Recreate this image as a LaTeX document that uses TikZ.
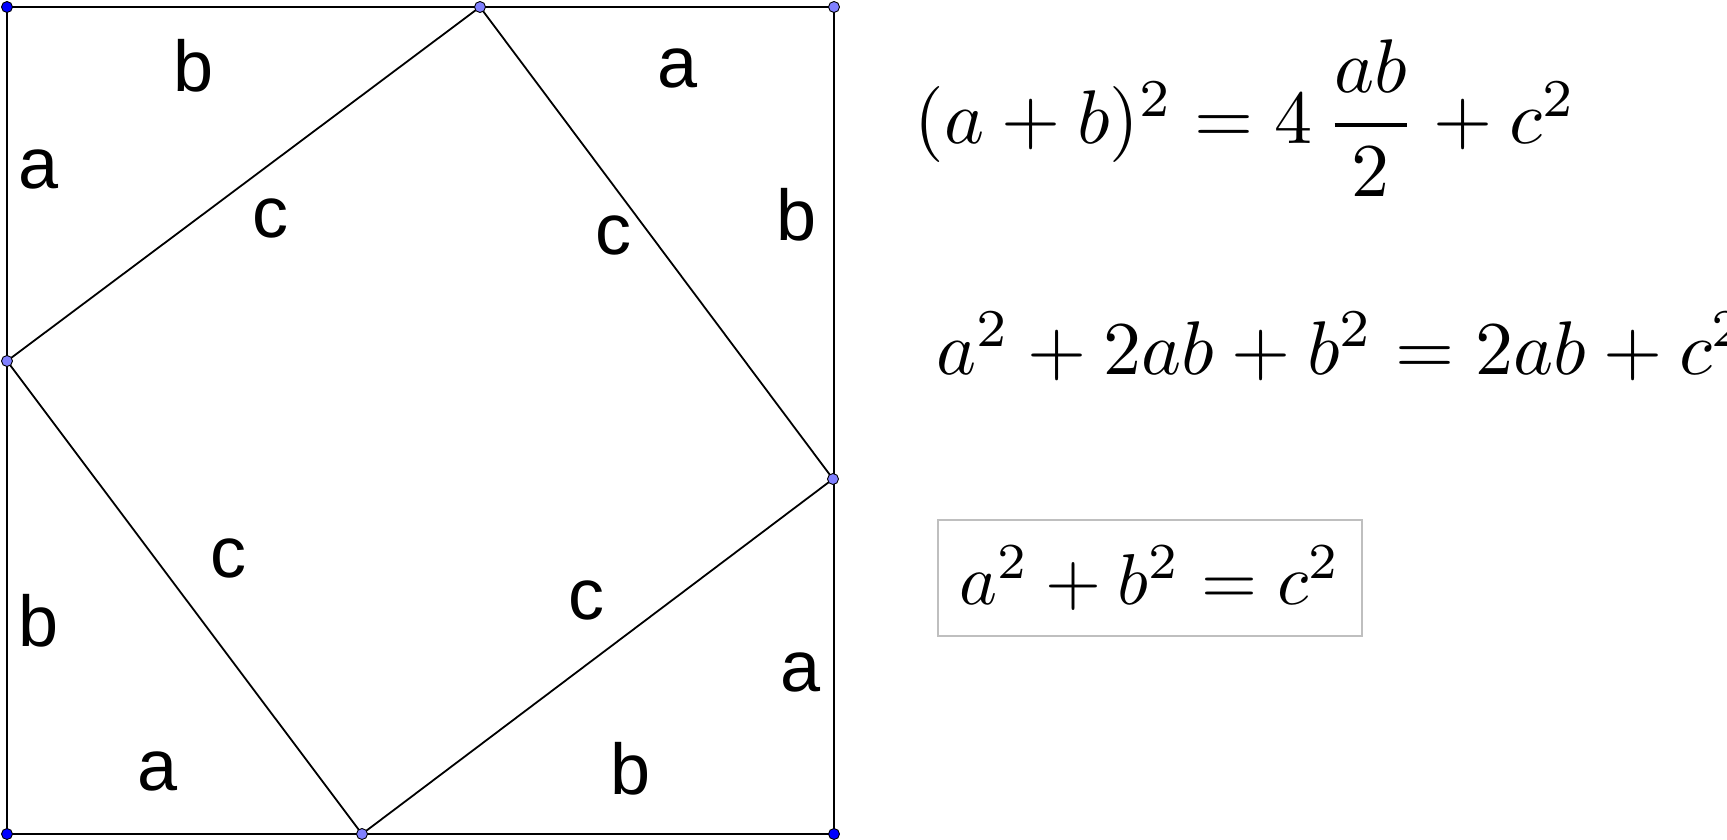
\documentclass[tikz,border=0pt]{standalone}
\usepackage{amsmath}
\usepackage[no-math]{fontspec}
\newfontfamily\lblfont{Liberation Sans}

\begin{document}
\begin{tikzpicture}
		[x=1pt,y=-1pt,
		side/.style ={draw=black, line width=1.8pt},
		ptdark/.style ={circle, draw=black, line width=0.9pt, fill=blue, inner sep=0pt, minimum size=11pt},
		ptlight/.style ={ptdark, fill=blue!50},
		lbl/.style ={font=\fontsize{72}{80}\lblfont, inner sep=0pt},
		eqn/.style ={scale=7.6, transform shape, inner sep=0pt, anchor=base west},
		]
		\useasboundingbox (0,0) rectangle (1727,840);

		\coordinate (TL) at (7,7);
		\coordinate (T) at (480,7);
		\coordinate (TR) at (834,7);
		\coordinate (L) at (7,361);
		\coordinate (R) at (833,479);
		\coordinate (BL) at (7,834);
		\coordinate (B) at (362,834);
		\coordinate (BR) at (834,834);

		\draw[side] (TL) -- (TR) -- (BR) -- (BL) -- cycle;
		\draw[side] (T) -- (R) -- (B) -- (L) -- cycle;

		\draw (TL) node[ptdark] (pTL) {};
		\draw (BL) node[ptdark] (pBL) {};
		\draw (BR) node[ptdark] (pBR) {};
		\draw (TR) node[ptlight] (pTR) {};
		\draw (T) node[ptlight] (pT) {};
		\draw (L) node[ptlight] (pL) {};
		\draw (R) node[ptlight] (pR) {};
		\draw (B) node[ptlight] (pB) {};

		\draw (194,66) node[lbl] (b1) {b};
		\draw (39,169) node[lbl] (a1) {a};
		\draw (270,218) node[lbl] (c1) {c};
		\draw (678,68) node[lbl] (a2) {a};
		\draw (613,235) node[lbl] (c2) {c};
		\draw (797,215) node[lbl] (b2) {b};
		\draw (228,558) node[lbl] (c3) {c};
		\draw (39,621) node[lbl] (b3) {b};
		\draw (158,771) node[lbl] (a3) {a};
		\draw (586,600) node[lbl] (c4) {c};
		\draw (801,672) node[lbl] (a4) {a};
		\draw (631,769) node[lbl] (b4) {b};

		\draw (913,144) node[eqn] (E1) {$(a+b)^2=4\,\dfrac{ab}{2}+c^2$};
		\draw (935,374) node[eqn] (E2) {$a^2+2ab+b^2=2ab+c^2$};
		\draw (1150,578) node[eqn, scale=7.2/7.6, anchor=center, draw=black!25, line width=1.2pt,
			minimum width=58.9, minimum height=16.1] (E3) {$a^2+b^2=c^2$};

	\end{tikzpicture}
\end{document}
